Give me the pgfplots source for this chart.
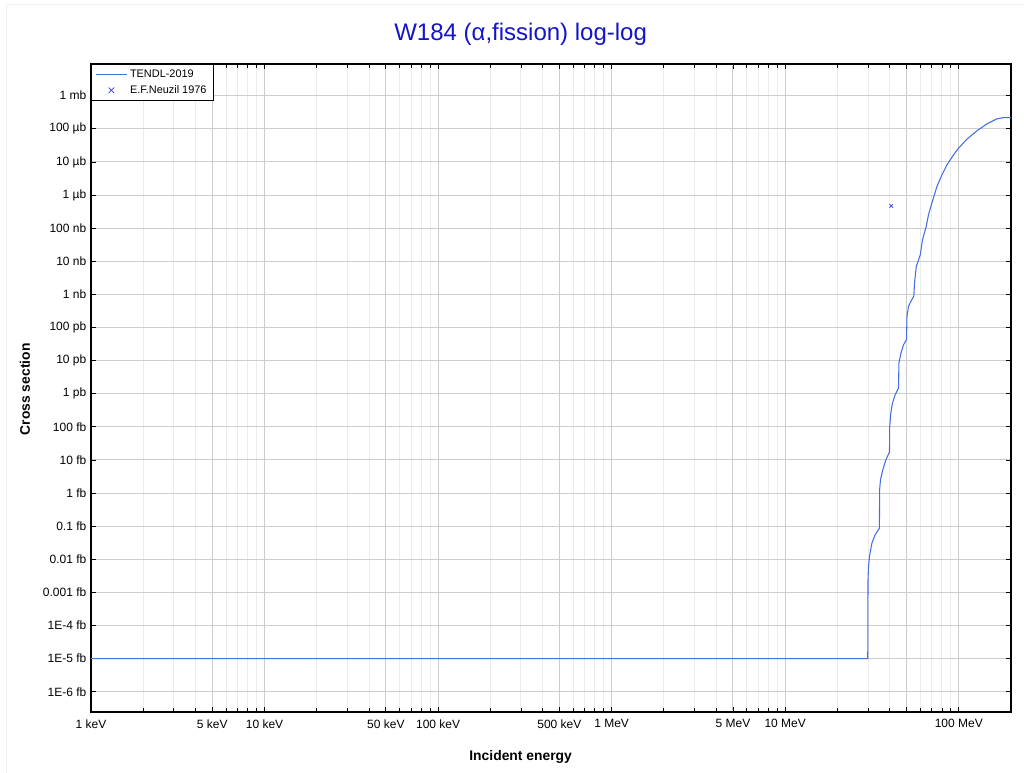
\documentclass[border=0pt]{standalone}
\usepackage{pgfplots}
\pgfplotsset{compat=1.18}
\usepackage{fontspec}
\setmainfont{Liberation Sans}
\definecolor{tendl}{RGB}{70,110,230}
\definecolor{exfor}{RGB}{60,60,225}
\definecolor{ttl}{RGB}{20,20,200}
\definecolor{gmaj}{RGB}{205,205,205}
\definecolor{gmin}{RGB}{236,236,236}

\begin{document}
\begin{tikzpicture}
\useasboundingbox (-68.25pt,-45.75pt) rectangle (699.75pt,534pt);
\draw[gray!12] (-63.75pt,-45.75pt) -- (-63.75pt,531pt) -- (699.75pt,531pt);
\begin{axis}[
  scale only axis,
  width=690pt, height=486pt,
  at={(0,0)}, anchor=south west,
  xmode=log, ymode=log,
  xmin=1e-3, xmax=200,
  ymin=2.44e-22, ymax=9.06e-3,
  /pgf/number format/assume math mode=true,
  xtick={1e-3,5e-3,1e-2,5e-2,0.1,0.5,1,5,10,50,100},
  xticklabels={1 keV,5 keV,10 keV,50 keV,100 keV,500 keV,1 MeV,5 MeV,10 MeV,,100 MeV},
  minor xtick={2e-3,3e-3,4e-3,6e-3,7e-3,8e-3,9e-3,
               2e-2,3e-2,4e-2,6e-2,7e-2,8e-2,9e-2,
               0.2,0.3,0.4,0.6,0.7,0.8,0.9,
               2,3,4,6,7,8,9,
               20,30,40,60,70,80,90,
               200},
  ytick={1e-21,1e-20,1e-19,1e-18,1e-17,1e-16,1e-15,1e-14,1e-13,1e-12,1e-11,1e-10,1e-9,1e-8,1e-7,1e-6,1e-5,1e-4,1e-3},
  yticklabels={1E-6 fb,1E-5 fb,1E-4 fb,0.001 fb,0.01 fb,0.1 fb,1 fb,10 fb,100 fb,1 pb,10 pb,100 pb,1 nb,10 nb,100 nb,1 µb,10 µb,100 µb,1 mb},
  yminorticks=false,
  xmajorgrids=true, xminorgrids=true, ymajorgrids=true,
  major grid style={gmaj, line width=0.75pt},
  minor grid style={gmin, line width=0.75pt},
  tick align=inside,
  major tick length=4pt, minor tick length=3pt,
  tick style={black, line width=0.6pt},
  axis line style={black, line width=1pt},
  tick label style={font=\fontsize{9}{10}\selectfont},
  xticklabel style={yshift=-2pt},
  title={W184 (α,fission) log-log},
  title style={font=\fontsize{18}{21}\selectfont, text=ttl, at={(0.467,1)}, anchor=center, yshift=16.5pt},
  xlabel={Incident energy},
  xlabel style={font=\bfseries\fontsize{10.4}{12}\selectfont, at={(0.467,0)}, anchor=center, yshift=-33.75pt},
  ylabel={Cross section},
  ylabel style={font=\bfseries\fontsize{10.4}{12}\selectfont, at={(-0.0717,0.498)}, anchor=center},
  legend style={at={(0,1)}, anchor=north west, draw=black, line width=0.6pt,
    font=\fontsize{8.2}{9}\selectfont, row sep=0.5pt, inner xsep=3pt, inner ysep=2pt},
  legend cell align=left,
]
\addplot[tendl, line width=0.8pt, mark=none,
  legend image code/.code={\draw[tendl, line width=1.2pt] (0cm,0cm) -- (0.8cm,0cm);}] coordinates {
(0.001,1e-20) (29.9,1e-20) (30.0,2.4e-18) (30.2,6.0e-18) (30.6,1.23e-17)
(31.6,3.1e-17) (33.0,5.5e-17) (34.9,8.7e-17)
(35.0,1.26e-15) (35.4,2.5e-15) (36.5,5.0e-15) (38.0,1.0e-14) (39.9,1.73e-14)
(40.0,1.0e-13) (40.6,2.6e-13) (41.5,5.2e-13) (43.0,9.3e-13) (45.0,1.49e-12)
(45.2,8.3e-12) (46.4,1.66e-11) (48.0,2.96e-11) (50.0,4.3e-11)
(50.3,2.14e-10) (51.3,4.3e-10) (52.9,6.0e-10) (55.1,8.9e-10)
(55.6,2.2e-9) (56.9,6.9e-9) (60.0,1.56e-8) (61.8,4.4e-8) (64.9,1.12e-7)
(66.9,2.5e-7) (69.9,5.6e-7) (74.8,1.78e-6) (79.9,4.0e-6) (85.4,8.1e-6)
(93.2,1.62e-5) (99.6,2.57e-5) (111,4.8e-5) (127,8.6e-5) (145,1.40e-4)
(166,2.0e-4) (181,2.18e-4) (200,2.2e-4)
};
\addlegendentry{TENDL-2019}
\addplot[exfor, only marks, mark=x, mark size=2pt, line width=0.5pt,
  legend image code/.code={\draw[exfor, line width=0.5pt, mark=x, mark size=3pt] plot coordinates {(0.4cm,0cm)};}] coordinates {
(40.8,4.7e-7)
};
\addlegendentry{E.F.Neuzil 1976}
\end{axis}
\end{tikzpicture}
\end{document}
